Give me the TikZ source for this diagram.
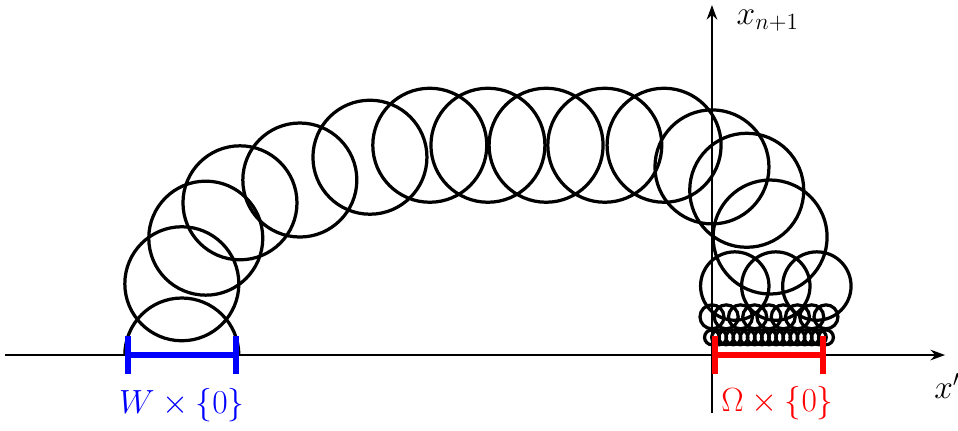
\documentclass[tikz,border=0pt]{standalone}
\usepackage{amsmath,amssymb}
\usetikzlibrary{arrows.meta, positioning}

\begin{document}
\begin{tikzpicture}[x=1.24cm, y=1.24cm,
  ball/.style={draw, line width=2pt},
  axis/.style={-{Stealth[length=9pt, width=6.5pt]}, line width=1.8pt},
  interval/.style={line width=3.8pt, {Bar[width=23pt]}-{Bar[width=23pt]}},
  set/.style={font=\fontsize{20}{24}\selectfont}
]
\useasboundingbox (-12.49,-1.316) rectangle (4.316,6.228);

% Axes
\coordinate (xstart) at (-12.4,0);
\coordinate (xend) at (4.09,0);
\coordinate (ybot) at (0,-1.02);
\coordinate (ytop) at (0,6.14);
\draw[axis] (xstart) -- (xend);
\draw[axis] (ybot) -- (ytop);
\node[set, anchor=west] (xlab) at (3.80,-0.55) {$x'$};
\node[set, anchor=west, inner sep=1pt] (ylab) at (0.40,5.87) {$x_{n+1}$};

% Chain of balls from W to Omega
\draw[line width=2pt] (-8.3,0) arc[start angle=0, end angle=180, radius=1];
\draw[ball] (-9.30,1.25) circle[radius=1];
\draw[ball] (-8.88,2.05) circle[radius=1];
\draw[ball] (-8.28,2.67) circle[radius=1];
\draw[ball] (-7.23,3.07) circle[radius=1];
\draw[ball] (-6.00,3.47) circle[radius=1];
\draw[ball] (-4.95,3.68) circle[radius=1];
\draw[ball] (-3.93,3.68) circle[radius=1];
\draw[ball] (-2.91,3.68) circle[radius=1];
\draw[ball] (-1.88,3.68) circle[radius=1];
\draw[ball] (-0.84,3.68) circle[radius=1];
\draw[ball] (0.00,3.30) circle[radius=1];
\draw[ball] (0.61,2.89) circle[radius=1];
\draw[ball] (1.02,2.07) circle[radius=1];

% Smaller balls near Omega
\foreach \x in {0.40,1.12,1.84}
  \draw[ball] (\x,1.21) circle[radius=0.6];
\foreach \i in {0,...,8}
  \draw[ball] (0.25*\i,0.67) circle[radius=0.21];
\foreach \i in {0,...,16}
  \draw[ball] (0.125*\i,0.31) circle[radius=0.13];

% Sets on the boundary
\coordinate (wleft) at (-10.3,0);
\coordinate (wright) at (-8.3,0);
\coordinate (oleft) at (0,0);
\coordinate (oright) at (2,0);
\draw[interval, blue] (wleft) -- (wright);
\draw[interval, red] (oleft) -- (oright);
\node[set, text=blue] (wlab) at (-9.3,-0.88) {$W\times\{0\}$};
\node[set, text=red] (olab) at (1.15,-0.84) {$\Omega\times\{0\}$};

\end{tikzpicture}
\end{document}
